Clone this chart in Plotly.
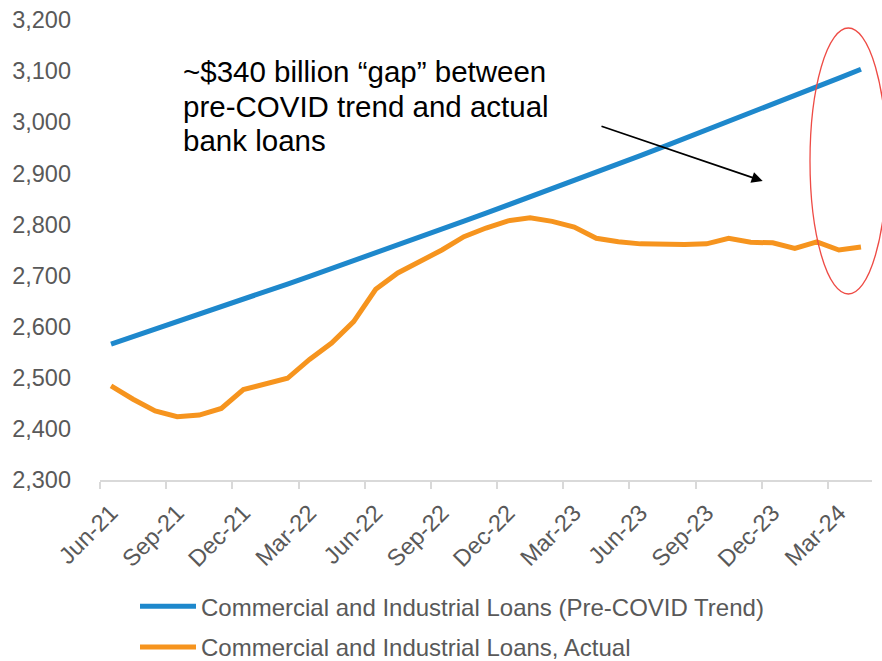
import pandas as pd
import plotly.graph_objects as go

# Monthly category labels, Jun-21 through Apr-24
months = [d.strftime("%b-%y") for d in pd.date_range("2021-06-01", "2024-04-01", freq="MS")]

# Commercial and industrial loans, $ billions
trend_loans = [
    2566.0, 2580.4, 2594.9, 2609.4, 2624.1, 2638.8, 2653.6, 2668.5, 2683.4, 2698.5,
    2713.6, 2728.9, 2744.2, 2759.6, 2775.1, 2790.6, 2806.3, 2822.0, 2837.8, 2853.8,
    2869.8, 2885.9, 2902.1, 2918.4, 2934.7, 2951.2, 2967.8, 2984.4, 3001.1, 3018.0,
    3034.9, 3051.9, 3069.0, 3086.3, 3103.6,
]
actual_loans = [
    2484, 2458, 2435, 2424, 2427, 2440, 2477, 2489, 2499, 2536,
    2568, 2610, 2673, 2705, 2727, 2750, 2776, 2793, 2807, 2813,
    2806, 2795, 2773, 2766, 2762, 2761, 2761, 2762, 2773, 2765,
    2764, 2753, 2766, 2750, 2756,
]

series_names = [
    "Commercial and Industrial Loans (Pre-COVID Trend)",
    "Commercial and Industrial Loans, Actual",
]
y_ticks = list(range(2300, 3201, 100))

callout_lines = [
    "~$340 billion \u201cgap\u201d between",
    "pre-COVID trend and actual",
    "bank loans",
]

BLUE = "#1E88CC"
ORANGE = "#F6941E"
GREY_TEXT = "#595959"
AXIS_GREY = "#D9D9D9"
FONT = "Liberation Sans, Arial, sans-serif"

W, H = 882, 661
L, R, T, B = 100, 10, 20, 181
PW, PH = W - L - R, H - T - B


def px_x(x):
    return (x - L) / PW


def px_y(y):
    return (H - B - y) / PH


fig = go.Figure()
fig.add_trace(go.Scatter(
    x=months, y=trend_loans, mode="lines", name=series_names[0],
    line=dict(color=BLUE, width=5), legend="legend",
))
fig.add_trace(go.Scatter(
    x=months, y=actual_loans, mode="lines", name=series_names[1],
    line=dict(color=ORANGE, width=5), legend="legend2",
))

legend_style = dict(
    font=dict(family=FONT, size=24, color=GREY_TEXT),
    bgcolor="rgba(0,0,0,0)", borderwidth=0,
    xanchor="left", yanchor="middle", itemwidth=56,
)

# Callout text, one annotation per line
annotations = []
for i, line in enumerate(callout_lines):
    annotations.append(dict(
        xref="paper", yref="paper", x=px_x(181), y=px_y(71.5 + 34.5 * i),
        xanchor="left", yanchor="middle", showarrow=False, text=line,
        font=dict(family=FONT, size=29.5, color="black"),
    ))
# Arrow pointing toward the gap
annotations.append(dict(
    xref="paper", yref="paper", x=px_x(762.7), y=px_y(181),
    ax=-162.7, ay=-55.3, text="", showarrow=True,
    arrowhead=2, arrowsize=1.3, arrowwidth=1.7, arrowcolor="black", standoff=0,
))

fig.update_layout(
    width=W, height=H,
    margin=dict(l=L, r=R, t=T, b=B, pad=0, autoexpand=False),
    paper_bgcolor="white", plot_bgcolor="white",
    font=dict(family=FONT, color=GREY_TEXT),
    showlegend=True,
    legend=dict(x=px_x(135), y=px_y(606.7), **legend_style),
    legend2=dict(x=px_x(135), y=px_y(647.5), **legend_style),
    xaxis=dict(
        type="category", range=[-0.5, 34.5],
        tickmode="linear", tick0=0, dtick=3, tickson="boundaries",
        ticks="outside", ticklen=7, tickwidth=1.5, tickcolor=AXIS_GREY,
        showline=True, linecolor=AXIS_GREY, linewidth=1.7,
        showgrid=False, zeroline=False, tickangle=-45,
        ticklabelstandoff=8,
        tickfont=dict(family=FONT, size=23.5, color=GREY_TEXT),
    ),
    yaxis=dict(
        range=[2300, 3200], tickvals=y_ticks, tickformat=",",
        showgrid=False, zeroline=False, showline=False, ticks="",
        ticklabelstandoff=28,
        tickfont=dict(family=FONT, size=23.5, color=GREY_TEXT),
    ),
    annotations=annotations,
    shapes=[dict(
        type="circle", xref="paper", yref="paper",
        x0=px_x(810), x1=px_x(886.7), y0=px_y(294), y1=px_y(28),
        line=dict(color="#EE4B45", width=1.3),
    )],
)

fig.write_html("out.html")
